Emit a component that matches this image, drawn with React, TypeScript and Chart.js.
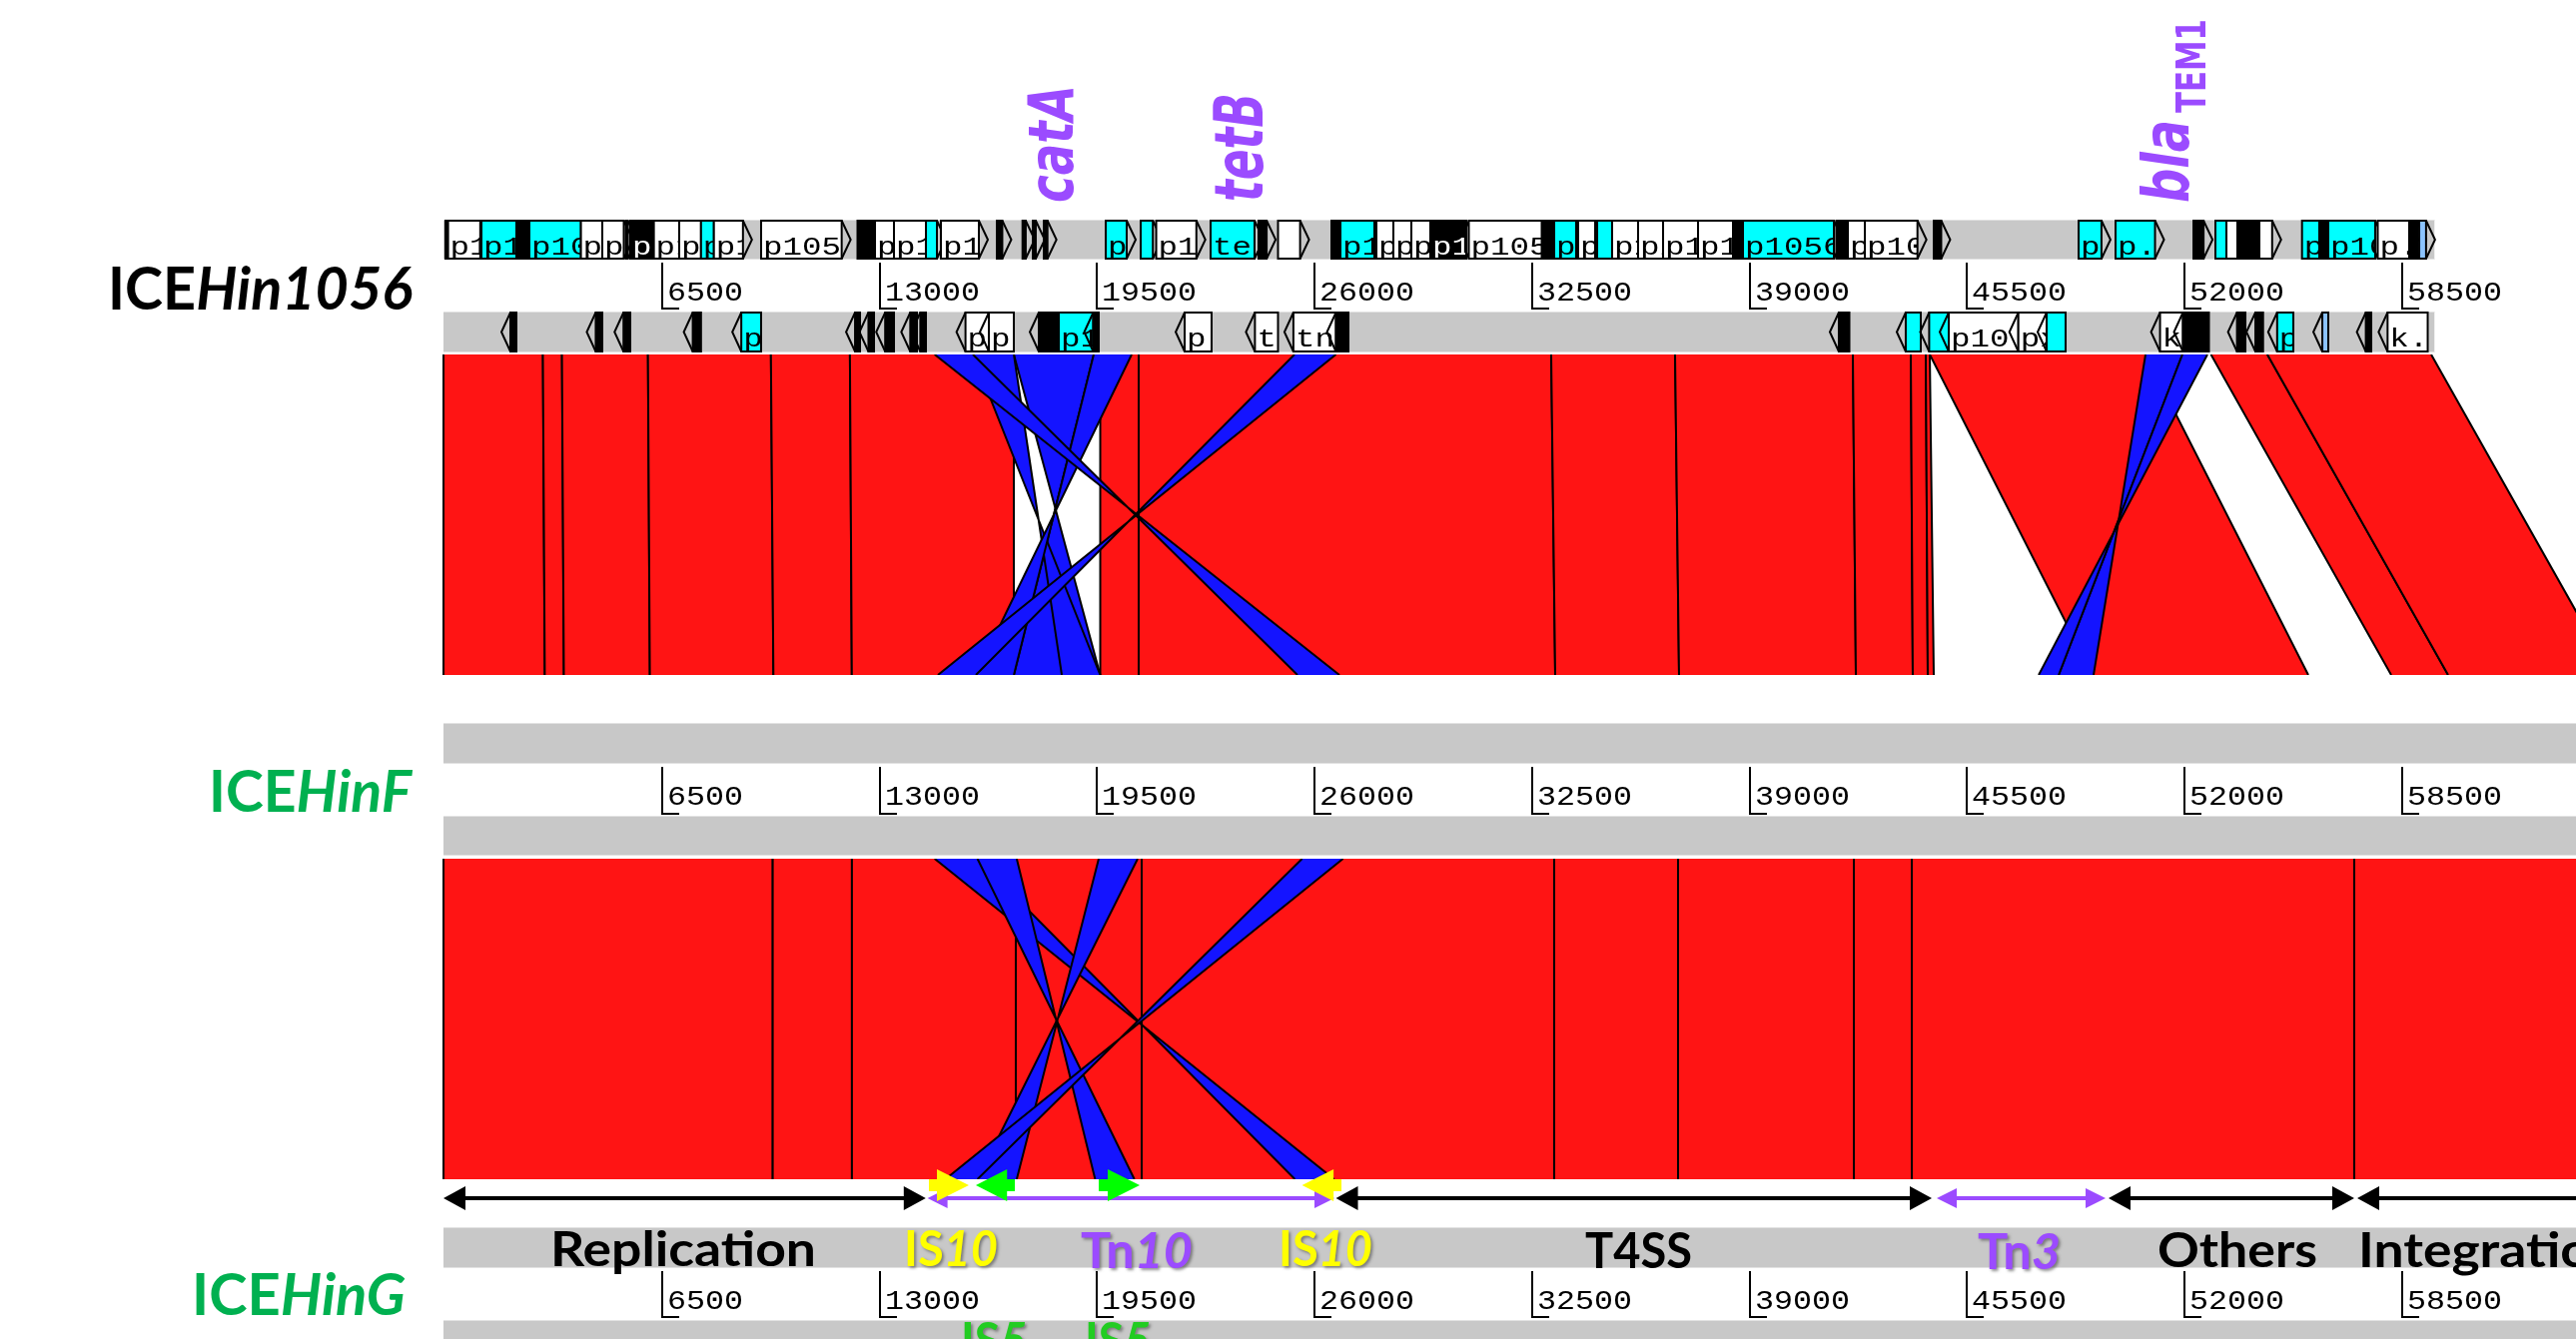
import React, { useEffect, useRef } from 'react';
import { Chart, registerables } from 'chart.js';

Chart.register(...registerables);

// ---------------- data ----------------
const X_MIN = -13254; // bp at left canvas edge
const X_MAX = 63731; // bp at right canvas edge

const TICKS = [6500, 13000, 19500, 26000, 32500, 39000, 45500, 52000, 58500];

const GENOME_PREFIX = ['ICE', 'ICE', 'ICE'];
const GENOME_SUFFIX = ['Hin1056', 'HinF', 'HinG'];
const GENOME_LENGTH = [59500, 68000, 68000];

// [start, end, fill, label]  fill: w white, c cyan, k black, l light blue, g green
const FWD_GENES: [number, number, string, string][] = [
  [60, 120, 'g', ''], [137, 1099, 'w', 'p1'], [1134, 2179, 'c', 'p10'], [2179, 2567, 'k', ''],
  [2567, 4107, 'c', 'p10'], [4107, 4746, 'w', 'p1'], [4746, 5388, 'w', 'p1'], [5448, 5507, 'l', ''],
  [5582, 6287, 'k', 'p'], [6287, 7045, 'w', 'p1'], [7045, 7696, 'w', 'p1'], [7696, 8081, 'c', 'p'],
  [8081, 8950, 'w', 'p1'], [9492, 11900, 'w', 'p1059'], [12373, 12896, 'k', ''], [12896, 13463, 'w', 'p'],
  [13463, 14418, 'w', 'p1'], [14418, 14746, 'c', ''], [14866, 16000, 'w', 'p1'], [16537, 16700, 'k', ''],
  [17304, 17400, 'k', ''], [17612, 17700, 'k', ''], [17940, 18050, 'k', ''], [19791, 20418, 'c', 'p'],
  [20836, 21200, 'c', ''], [21300, 22500, 'w', 'p10'], [22925, 24238, 'c', 'tetB'], [24357, 24600, 'k', ''],
  [24940, 25600, 'w', ''], [26537, 26806, 'k', ''], [26806, 27821, 'c', 'p1.'], [27881, 28388, 'w', 'p1'],
  [28388, 28925, 'w', 'p1'], [28925, 29492, 'w', 'p1'], [29492, 30567, 'k', 'p1'], [30642, 32821, 'w', 'p1056'],
  [32866, 33194, 'k', ''], [33194, 33851, 'c', 'p'], [33910, 34418, 'w', 'p'], [34478, 34925, 'c', ''],
  [34925, 35701, 'w', 'p1'], [35701, 36448, 'w', 'p2'], [36448, 37493, 'w', 'p10'], [37493, 38537, 'w', 'p1'],
  [38537, 38836, 'k', ''], [38836, 41552, 'c', 'p1056'], [41627, 41970, 'k', ''], [41970, 42478, 'w', 'p'],
  [42478, 44050, 'w', 'p10'], [44537, 44760, 'k', ''], [48866, 49550, 'c', 'p'], [49970, 51150, 'c', 'p.'],
  [52299, 52600, 'k', ''], [52955, 53284, 'c', ''], [53284, 53612, 'w', ''], [53612, 54269, 'k', ''],
  [54269, 54650, 'w', ''], [55543, 56060, 'c', 'p'], [56060, 56328, 'k', ''], [56328, 57731, 'c', 'p10.'],
  [57806, 58746, 'w', 'p.'], [58746, 58985, 'k', ''], [59045, 59250, 'l', ''],
];

const REV_GENES: [number, number, string, string][] = [
  [2000, 2179, 'k', ''], [4550, 4746, 'k', ''], [5380, 5582, 'k', ''], [7450, 7696, 'k', ''],
  [8900, 9492, 'c', 'p'], [12300, 12448, 'k', ''], [12700, 12866, 'k', ''], [13200, 13463, 'k', ''],
  [13950, 14149, 'k', ''], [14250, 14418, 'k', ''], [15600, 16299, 'w', 'p1'], [16299, 17045, 'w', 'p'],
  [17791, 18388, 'k', ''], [18388, 19418, 'c', 'p1'], [19418, 19582, 'k', ''], [22150, 22955, 'w', 'p'],
  [24250, 24940, 'w', 't'], [25400, 26672, 'w', 'tn'], [26672, 27045, 'k', ''], [41700, 42015, 'k', ''],
  [43700, 44149, 'c', ''], [44400, 44985, 'c', ''], [44985, 47065, 'w', 'p10'], [47065, 47910, 'w', 'px'],
  [47910, 48478, 'c', ''], [51300, 51985, 'w', 'k'], [51985, 52761, 'k', ''], [53600, 53851, 'k', ''],
  [54150, 54379, 'k', ''], [54800, 55284, 'c', 'p'], [56150, 56328, 'l', ''], [57450, 57612, 'k', ''],
  [58100, 59299, 'w', 'k.'],
];

// [top start, top end, bottom start, bottom end, 'f' forward | 'r' reverse]
const CMP1_MATCHES: [number, number, number, number, string][] = [
  [0, 2970, 0, 3027, 'f'], [2970, 3540, 3027, 3597, 'f'], [3540, 6110, 3597, 6167, 'f'],
  [6110, 9785, 6167, 9860, 'f'], [9785, 12146, 9860, 12203, 'f'], [12146, 17045, 12203, 17045, 'f'],
  [19627, 20776, 19627, 20776, 'f'], [20776, 33104, 20776, 33224, 'f'], [33104, 36806, 33224, 36925, 'f'],
  [36806, 42119, 36925, 42209, 'f'], [42119, 43851, 42209, 43910, 'f'], [43851, 44299, 43910, 44358, 'f'],
  [44299, 44418, 44358, 44537, 'f'], [44418, 50866, 49284, 55731, 'f'], [52821, 54507, 58209, 59910, 'f'],
  [54507, 59403, 59910, 64806, 'f'],
  [17045, 19433, 17045, 19627, 'r'], [15821, 17045, 18478, 19627, 'r'], [19433, 20567, 15910, 17045, 'r'],
  [14678, 15821, 25522, 26776, 'r'], [25433, 26672, 14776, 15910, 'r'], [50866, 51970, 48269, 49313, 'r'],
  [51970, 52716, 47672, 48269, 'r'],
];

const CMP2_MATCHES: [number, number, number, number, string][] = [
  [0, 9839, 0, 9839, 'f'], [9839, 12206, 9839, 12206, 'f'], [12206, 17104, 12206, 17104, 'f'],
  [17104, 20866, 17104, 20866, 'f'], [20866, 33194, 20866, 33194, 'f'], [33194, 36896, 33194, 36896, 'f'],
  [36896, 42149, 36896, 42149, 'f'], [42149, 43881, 42149, 43881, 'f'], [43881, 57104, 43881, 57104, 'f'],
  [57104, 68000, 57104, 68000, 'f'],
  [14678, 15958, 25445, 26618, 'r'], [15958, 17131, 19475, 20648, 'r'], [19582, 20746, 15958, 17131, 'r'],
  [25660, 26884, 14997, 15958, 'r'],
];

// functional modules (double-headed arrows)
const MODULE_START = [0, 14466, 26672, 44627, 49761, 57194];
const MODULE_END = [14412, 26627, 44478, 49672, 57104, 66500];
const MODULE_MOBILE = [false, true, false, true, false, false];

// insertion sequences (block arrows)
const IS_START = [14507, 15910, 19582, 25660];
const IS_END = [15701, 17075, 20806, 26836];
const IS_STRAND = [1, -1, 1, -1];
const IS_KIND = ['IS10', 'IS5', 'IS5', 'IS10'];

// module / element labels: text parts [text, italic]
const LABEL_PARTS: [string, boolean][][] = [
  [['Replication', false]], [['IS', false], ['10', true]], [['Tn', false], ['10', true]],
  [['IS', false], ['10', true]], [['T4SS', false]], [['Tn', false], ['3', true]],
  [['Others', false]], [['Integration', false]], [['IS', false], ['5', true]], [['IS', false], ['5', true]],
];
const LABEL_LEFT_BP = [3194, 13761, 19045, 24955, 34119, 45851, 51224, 57224, 15463, 19164];
const LABEL_KIND = ['core', 'is10', 'tn', 'is10', 'core', 'tn', 'core', 'core', 'is5', 'is5'];

// resistance genes above the top genome
const RES_GENE = ['catA', 'tetB', 'bla'];
const RES_SUB = ['', '', 'TEM1'];
const RES_POS_BP = [18806, 24478, 52149];

// ---------------- layout / style ----------------
const W = 2579;
const H = 1341;
const GENOME_ROWS = [
  { fwd: [220, 260], tick: [263, 310], rev: [312, 353], lab: { right: 413, base: 310, w: 305, asc: 43, color: '#000000' } },
  { fwd: [724, 765], tick: [768, 816], rev: [817, 857], lab: { right: 412, base: 813, w: 203, asc: 42, color: '#00B050' } },
  { fwd: [1229, 1270], tick: [1273, 1320], rev: [1322, 1362], lab: { right: 406, base: 1317, w: 214, asc: 42, color: '#00B050' } },
];
const CMP_ROWS = [[355, 676], [860, 1181]];
const LABEL_BASE = [1268, 1268, 1270, 1268, 1270, 1271, 1269, 1269, 1360, 1360];
const LABEL_W = [266, 94, 112, 94, 107, 83, 160, 0, 66, 66];
const RES_LAYOUT = [
  { startY: 203, len: 118, h: 46 },
  { startY: 202, len: 109, h: 49 },
  { startY: 203, len: 83, h: 49 },
];
const RED = '#FF1414';
const BLUE = '#1414FF';
const GRAY = '#C8C8C8';
const PURPLE = '#9B4BFF';
const FILL: Record<string, string> = { w: '#FFFFFF', c: '#00FFFF', k: '#000000', l: '#8CC4FF', g: '#00C000' };

type Part = [string, boolean];

function drawParts(
  ctx: CanvasRenderingContext2D, parts: Part[], size: number, family: string, color: string,
  x: number, base: number, align: string, targetW: number, targetAsc: number, fixedSx: number, shadow: boolean
): number {
  const fonts = parts.map(([, it]) => `${it ? 'italic ' : ''}bold ${size}px ${family}`);
  let asc = 0;
  const widths = parts.map(([t], i) => {
    ctx.font = fonts[i];
    const m = ctx.measureText(t);
    asc = Math.max(asc, m.actualBoundingBoxAscent);
    return m.width;
  });
  const total = widths.reduce((a, b) => a + b, 0);
  const sx = fixedSx > 0 ? fixedSx : targetW > 0 ? targetW / total : 1;
  const sy = targetAsc > 0 && asc > 0 ? targetAsc / asc : 1;
  const startX = align === 'right' ? x - total * sx : align === 'center' ? x - (total * sx) / 2 : x;
  ctx.save();
  ctx.translate(startX, base);
  ctx.scale(sx, sy);
  if (shadow) {
    ctx.shadowColor = 'rgba(60,60,60,0.55)';
    ctx.shadowOffsetX = 2;
    ctx.shadowOffsetY = 2;
    ctx.shadowBlur = 3;
  }
  ctx.textBaseline = 'alphabetic';
  ctx.textAlign = 'left';
  ctx.fillStyle = color;
  let cx = 0;
  parts.forEach(([t], i) => {
    ctx.font = fonts[i];
    ctx.fillText(t, cx, 0);
    cx += widths[i];
  });
  ctx.restore();
  return sx;
}

function drawRotated(
  ctx: CanvasRenderingContext2D, text: string, font: string, color: string,
  baseX: number, startY: number, len: number, h: number
) {
  ctx.save();
  ctx.font = font;
  const m = ctx.measureText(text);
  const sx = len / m.width;
  const sy = h / m.actualBoundingBoxAscent;
  ctx.translate(baseX, startY);
  ctx.rotate(-Math.PI / 2);
  ctx.scale(sx, sy);
  ctx.fillStyle = color;
  ctx.textBaseline = 'alphabetic';
  ctx.textAlign = 'left';
  ctx.fillText(text, 0, 0);
  ctx.restore();
}

const scenePlugin = {
  id: 'actScene',
  afterDraw(chart: any) {
    const ctx: CanvasRenderingContext2D = chart.ctx;
    const xs = chart.scales.x;
    const ys = chart.scales.y;
    const X = (bp: number) => xs.getPixelForValue(bp);
    const Y = (v: number) => ys.getPixelForValue(v);

    ctx.save();
    ctx.fillStyle = '#FFFFFF';
    ctx.fillRect(0, 0, chart.width, chart.height);

    // ---- comparisons ----
    [CMP1_MATCHES, CMP2_MATCHES].forEach((list, ci) => {
      const top = Y(CMP_ROWS[ci][0]);
      const bot = Y(CMP_ROWS[ci][1]);
      const ordered = [...list.filter((m) => m[4] === 'f'), ...list.filter((m) => m[4] === 'r')];
      ctx.save();
      ctx.beginPath();
      ctx.rect(0, top, W, bot - top);
      ctx.clip();
      ordered.forEach(([t1, t2, b1, b2, kind]) => {
        const inv = kind === 'r';
        ctx.beginPath();
        ctx.moveTo(X(t1), top);
        ctx.lineTo(X(t2), top);
        if (inv) {
          ctx.lineTo(X(b1), bot);
          ctx.lineTo(X(b2), bot);
        } else {
          ctx.lineTo(X(b2), bot);
          ctx.lineTo(X(b1), bot);
        }
        ctx.closePath();
        ctx.fillStyle = inv ? BLUE : RED;
        ctx.fill();
        ctx.beginPath();
        ctx.moveTo(X(t1), top);
        ctx.lineTo(X(inv ? b2 : b1), bot);
        ctx.moveTo(X(t2), top);
        ctx.lineTo(X(inv ? b1 : b2), bot);
        ctx.strokeStyle = '#000000';
        ctx.lineWidth = 2;
        ctx.stroke();
      });
      ctx.restore();
    });

    // ---- genome tracks ----
    GENOME_ROWS.forEach((row, gi) => {
      const x0 = X(0);
      const x1 = Math.min(X(GENOME_LENGTH[gi]), W + 5);
      [row.fwd, row.rev].forEach(([a, b]) => {
        ctx.fillStyle = GRAY;
        ctx.fillRect(x0, Y(a), x1 - x0, Y(b) - Y(a));
        ctx.fillStyle = '#E2E2E2';
        ctx.fillRect(x0, Y(a), x1 - x0, 1);
        ctx.fillRect(x0, Y(b) - 1, x1 - x0, 1);
      });
      // ticks
      TICKS.forEach((t) => {
        const tx = Math.round(X(t));
        ctx.fillStyle = '#000000';
        ctx.fillRect(tx, Y(row.tick[0]), 2, Y(row.tick[1]) - Y(row.tick[0]));
        ctx.fillRect(tx, Y(row.tick[1]) - 2, 18, 2);
        ctx.save();
        ctx.translate(tx + 6, Y(row.tick[0]) + 38);
        ctx.scale(1.13, 1);
        ctx.font = '28px "Liberation Mono"';
        ctx.textBaseline = 'alphabetic';
        ctx.fillText(String(t), 0, 0);
        ctx.restore();
      });
      // genome label
      drawParts(ctx, [[GENOME_PREFIX[gi], false], [GENOME_SUFFIX[gi], true]], 60, 'Lato', row.lab.color,
        row.lab.right, Y(row.lab.base), 'right', row.lab.w, row.lab.asc, 0, false);
    });

    // genes on first genome
    const drawGene = (g: [number, number, string, string], a: number, b: number, strand: number) => {
      const [s, e, f, label] = g;
      const top = Y(a) + 1;
      const bot = Y(b) - 1;
      const gx1 = X(s);
      const w = Math.max(X(e) - gx1, 2);
      ctx.fillStyle = FILL[f];
      ctx.fillRect(gx1, top, w, bot - top);
      if (label) {
        ctx.save();
        ctx.beginPath();
        ctx.rect(gx1, top, w, bot - top);
        ctx.clip();
        ctx.translate(gx1 + 2, top + 34);
        ctx.scale(1.25, 1);
        ctx.font = '26px "Liberation Mono"';
        ctx.fillStyle = f === 'k' ? '#FFFFFF' : '#000000';
        ctx.fillText(label, 0, 0);
        ctx.restore();
      }
      ctx.strokeStyle = '#000000';
      ctx.lineWidth = 2;
      ctx.strokeRect(gx1, top, w, bot - top);
      const mid = (top + bot) / 2;
      ctx.beginPath();
      if (strand > 0) {
        ctx.moveTo(gx1 + w, top);
        ctx.lineTo(gx1 + w + 9, mid);
        ctx.lineTo(gx1 + w, bot);
      } else {
        ctx.moveTo(gx1, top);
        ctx.lineTo(gx1 - 9, mid);
        ctx.lineTo(gx1, bot);
      }
      ctx.stroke();
    };
    const r0 = GENOME_ROWS[0];
    FWD_GENES.forEach((g) => drawGene(g, r0.fwd[0], r0.fwd[1], 1));
    REV_GENES.forEach((g) => drawGene(g, r0.rev[0], r0.rev[1], -1));

    // ---- resistance gene labels ----
    const resFont = 'italic bold 48px "DejaVu Sans"';
    RES_GENE.forEach((name, i) => {
      const L = RES_LAYOUT[i];
      drawRotated(ctx, name, resFont, PURPLE, X(RES_POS_BP[i]), Y(L.startY), L.len, L.h);
      if (RES_SUB[i]) {
        drawRotated(ctx, RES_SUB[i], 'bold 32px "DejaVu Sans"', PURPLE, X(RES_POS_BP[i]) + 17,
          Y(L.startY - L.len - 7), 94, 29);
      }
    });

    // ---- module arrows ----
    const arrowY = Y(1200);
    MODULE_START.forEach((s, i) => {
      const ax1 = X(s);
      const ax2 = X(MODULE_END[i]);
      const mobile = MODULE_MOBILE[i];
      const col = mobile ? PURPLE : '#000000';
      const hl = mobile ? 20 : 22;
      const hh = mobile ? 10 : 12;
      ctx.fillStyle = col;
      ctx.fillRect(ax1 + hl - 1, arrowY - 2, ax2 - ax1 - 2 * hl + 2, 4);
      ctx.beginPath();
      ctx.moveTo(ax1, arrowY);
      ctx.lineTo(ax1 + hl, arrowY - hh);
      ctx.lineTo(ax1 + hl, arrowY + hh);
      ctx.closePath();
      ctx.moveTo(ax2, arrowY);
      ctx.lineTo(ax2 - hl, arrowY - hh);
      ctx.lineTo(ax2 - hl, arrowY + hh);
      ctx.closePath();
      ctx.fill();
    });

    // ---- IS block arrows ----
    const isY = Y(1187);
    IS_START.forEach((s, i) => {
      const bx1 = X(s);
      const bx2 = X(IS_END[i]);
      const L = bx2 - bx1;
      const hl = Math.min(32, L * 0.8);
      const h1 = 6;
      const h2 = 16;
      ctx.fillStyle = IS_KIND[i] === 'IS10' ? '#FFFF00' : '#00FF00';
      ctx.beginPath();
      if (IS_STRAND[i] > 0) {
        ctx.moveTo(bx1, isY - h1);
        ctx.lineTo(bx2 - hl, isY - h1);
        ctx.lineTo(bx2 - hl, isY - h2);
        ctx.lineTo(bx2, isY);
        ctx.lineTo(bx2 - hl, isY + h2);
        ctx.lineTo(bx2 - hl, isY + h1);
        ctx.lineTo(bx1, isY + h1);
      } else {
        ctx.moveTo(bx2, isY - h1);
        ctx.lineTo(bx1 + hl, isY - h1);
        ctx.lineTo(bx1 + hl, isY - h2);
        ctx.lineTo(bx1, isY);
        ctx.lineTo(bx1 + hl, isY + h2);
        ctx.lineTo(bx1 + hl, isY + h1);
        ctx.lineTo(bx2, isY + h1);
      }
      ctx.closePath();
      ctx.fill();
    });

    // ---- module labels ----
    let coreSx = 1;
    LABEL_PARTS.forEach((parts, i) => {
      const kind = LABEL_KIND[i];
      const color = kind === 'core' ? '#000000' : kind === 'is10' ? '#FFFF00' : kind === 'tn' ? PURPLE : '#22CC22';
      const sx = drawParts(ctx, parts, 49, 'Lato', color, X(LABEL_LEFT_BP[i]), Y(LABEL_BASE[i]), 'left',
        LABEL_W[i], 36, LABEL_W[i] > 0 ? 0 : coreSx, kind !== 'core');
      if (i === 0) coreSx = sx;
    });

    ctx.restore();
  },
};

export default function App() {
  const ref = useRef<HTMLCanvasElement>(null);
  useEffect(() => {
    document.body.style.margin = '0';
    document.body.style.overflow = 'hidden';
    const canvas = ref.current;
    if (!canvas) return;
    const chart = new Chart(canvas, {
      type: 'scatter',
      data: { datasets: [{ data: [], pointRadius: 0 }] },
      options: {
        animation: false,
        responsive: false,
        maintainAspectRatio: false,
        devicePixelRatio: 1,
        layout: { padding: 0 },
        plugins: { legend: { display: false }, tooltip: { enabled: false } },
        scales: {
          x: { type: 'linear', min: X_MIN, max: X_MAX, display: false },
          y: { type: 'linear', min: 0, max: H, reverse: true, display: false },
        },
      },
      plugins: [scenePlugin],
    } as any);
    return () => chart.destroy();
  }, []);
  return (
    <canvas
      ref={ref}
      width={W}
      height={H}
      style={{ display: 'block', width: `${W}px`, height: `${H}px` }}
    />
  );
}
